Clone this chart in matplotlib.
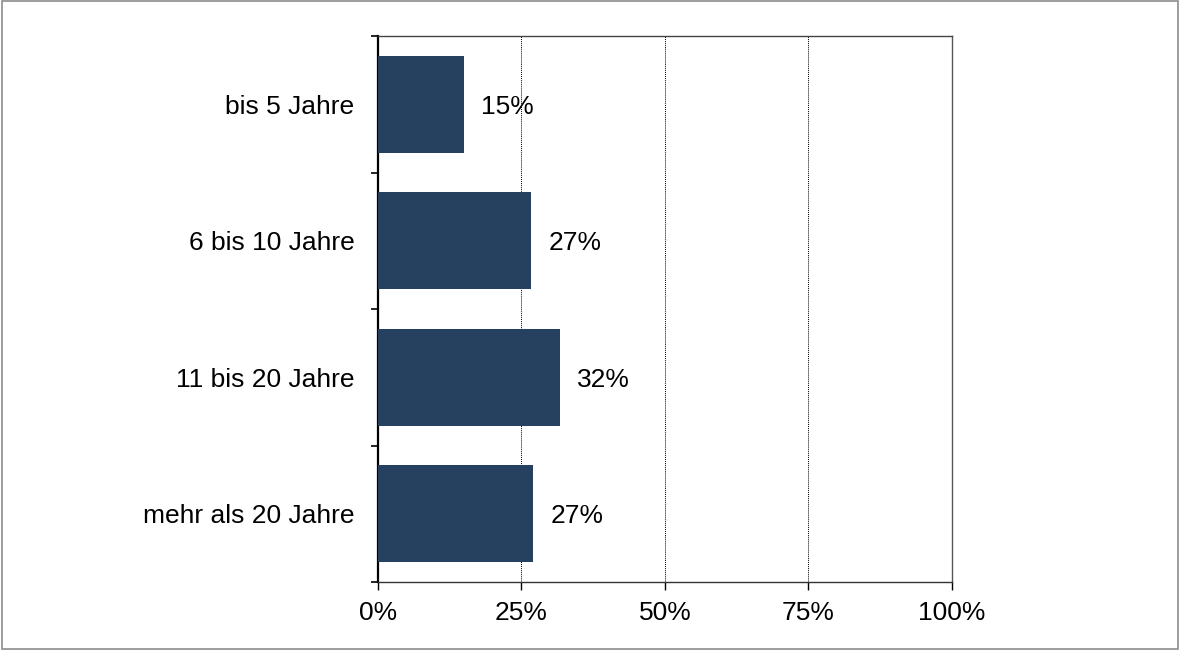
import numpy as np
import matplotlib.pyplot as plt
from matplotlib.patches import Rectangle

# Daten
categories = ['bis 5 Jahre', '6 bis 10 Jahre', '11 bis 20 Jahre', 'mehr als 20 Jahre']
values = [15, 27, 32, 27]
shown = [15.0, 26.7, 31.7, 27.0]
xticks = [0, 25, 50, 75, 100]

plt.rcParams['font.family'] = ['Liberation Sans', 'DejaVu Sans']
fs = 19

fig = plt.figure(figsize=(11.8, 6.5), dpi=100)
ax = fig.add_axes([0.3203, 0.1046, 0.4864, 0.84])

y = np.arange(len(categories))
ax.barh(y, shown, height=0.71, color='#26405f', zorder=3)

for yi, w, v in zip(y, shown, values):
    ax.text(w + 3.0, yi + 0.02, f'{v}%', va='center', ha='left', fontsize=fs, zorder=4)

ax.set_xlim(0, 100)
ax.set_ylim(len(categories) - 0.5, -0.5)
ax.set_xticks(xticks)
ax.set_xticklabels([f'{t}%' for t in xticks], fontsize=fs)

# Kategoriegrenzen als Hauptstriche, Beschriftung in der Mitte
ax.set_yticks(np.arange(-0.5, len(categories), 1.0))
ax.set_yticklabels([])
ax.set_yticks(y, minor=True)
ax.set_yticklabels(categories, minor=True, fontsize=fs)
ax.tick_params(axis='y', which='minor', length=0, pad=17)
ax.tick_params(axis='y', which='major', length=5, width=1.2, direction='out')
ax.tick_params(axis='x', length=6, width=1, direction='out', pad=8)

for gx in [25, 50, 75]:
    ax.axvline(gx, color='black', linestyle=(0, (1, 1)), linewidth=0.7, zorder=1)

ax.spines['left'].set_linewidth(1.6)
ax.spines['left'].set_color('black')
ax.spines['bottom'].set_color('#333333')
ax.spines['top'].set_color('#444444')
ax.spines['right'].set_color('#555555')
for s in ['bottom', 'top', 'right']:
    ax.spines[s].set_linewidth(1)

fig.patches.append(Rectangle((0.0015, 0.002), 0.997, 0.996, transform=fig.transFigure,
                             fill=False, edgecolor='#8c8c8c', linewidth=1.2))

fig.savefig('out.png', dpi=100)
